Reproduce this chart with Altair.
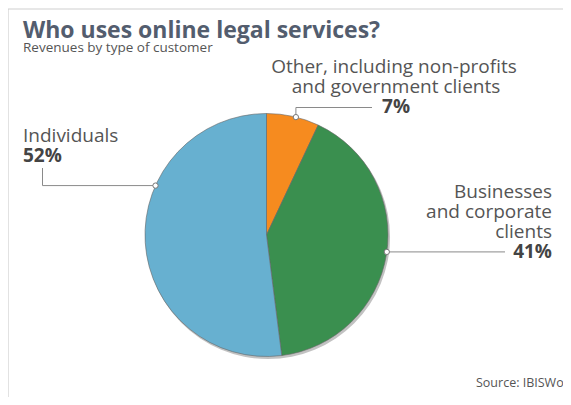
import math
import altair as alt
import pandas as pd

# ---- data ----
categories = ["Other", "Businesses", "Individuals"]
shares = [7, 41, 52]
colors = ["#F68B1F", "#3A8F4F", "#67B0D0"]
label_lines = [
    ["Other, including non-profits", "and government clients"],
    ["Businesses", "and corporate", "clients"],
    ["Individuals"],
]
pct_labels = ["7%", "41%", "52%"]
title_text = "Who uses online legal services?"
subtitle_text = "Revenues by type of customer"
source_text = "Source: IBISWorld"

# ---- layout (page coords -> view coords) ----
W, H = 555, 389
OX, OY = 8, 8
CX, CY, R = 266.5 - OX, 235 - OY, 121.5
anchor_deg = [14, 98, 294]          # where each leader line touches the pie
FONT = "Open Sans"
LBL = 19

pie_df = pd.DataFrame({"category": categories, "share": shares,
                       "order": list(range(len(categories)))})

# dots on the pie edge
dots = []
for cat, a in zip(categories, anchor_deg):
    t = math.radians(a)
    dots.append({"label": cat, "x": CX + R * math.sin(t), "y": CY - R * math.cos(t)})
dot_df = pd.DataFrame(dots)

# leader lines (elbows in page coords)
elbows = {
    "Other": [("dot", None), (None, 107.5), (372, None)],
    "Businesses": [("dot", None), (505, None)],
    "Individuals": [("dot", None), (42.5, None), (None, 168)],
}
line_rows = []
for d in dots:
    px, py = d["x"], d["y"]
    seq = 0
    for ex, ey in elbows[d["label"]]:
        if ex != "dot":
            if ex is not None:
                px = ex - OX
            if ey is not None:
                py = ey - OY
        line_rows.append({"label": d["label"], "seq": seq, "x": px, "y": py})
        seq += 1
line_df = pd.DataFrame(line_rows)

# text rows: (text, x, y, align, weight, size, color)
texts = []
texts.append((title_text, 23, 38, "left", "bold", 23, "#535D6E"))
texts.append((subtitle_text, 23, 52, "left", "normal", 13.5, "#555555"))
texts.append((source_text, 476, 387, "left", "normal", 12.5, "#555555"))
# Other
texts.append((label_lines[0][0], 394, 73, "center", "normal", LBL, "#555555"))
texts.append((label_lines[0][1], 396, 93, "center", "normal", LBL, "#555555"))
texts.append((pct_labels[0], 396, 113, "center", "bold", LBL, "#444444"))
# Businesses
for i, ln in enumerate(label_lines[1]):
    texts.append((ln, 552, 198 + 20 * i, "right", "normal", LBL, "#555555"))
texts.append((pct_labels[1], 552, 258, "right", "bold", LBL, "#444444"))
# Individuals
texts.append((label_lines[2][0], 23, 142, "left", "normal", LBL, "#555555"))
texts.append((pct_labels[2], 23, 162, "left", "bold", LBL, "#444444"))

text_df = pd.DataFrame([
    {"text": t, "x": x - OX, "y": y - OY, "align": al, "weight": wt, "size": sz, "color": c}
    for t, x, y, al, wt, sz, c in texts
])

# ---- layers ----
border_top = alt.Chart(pd.DataFrame({"a": [0]})).mark_rule(
    color="#cfcfcf", strokeWidth=1.2).encode(
    x=alt.value(-1), x2=alt.value(W), y=alt.value(1))
border_left = alt.Chart(pd.DataFrame({"a": [0]})).mark_rule(
    color="#cfcfcf", strokeWidth=1.2).encode(
    x=alt.value(0), y=alt.value(1), y2=alt.value(H))

shadow = alt.Chart(pd.DataFrame({"a": [0]})).mark_arc(
    radius=R + 0.5, theta=0, theta2=2 * math.pi, color="#777777", opacity=0.45).encode(
    x=alt.value(CX + 1.5), y=alt.value(CY + 2))

pie = alt.Chart(pie_df).mark_arc(radius=R, stroke="#666666", strokeWidth=0.6).encode(
    theta=alt.Theta("share:Q", stack=True),
    color=alt.Color("category:N", scale=alt.Scale(domain=categories, range=colors), legend=None),
    order=alt.Order("order:Q"),
    x=alt.value(CX), y=alt.value(CY),
)

leaders = alt.Chart(line_df).mark_line(color="#8a8a8a", strokeWidth=1).encode(
    x=alt.X("x:Q", scale=None, axis=None),
    y=alt.Y("y:Q", scale=None, axis=None),
    detail="label:N",
    order="seq:Q",
)

dot_layer = alt.Chart(dot_df).mark_point(
    filled=True, fill="white", stroke="#777777", strokeWidth=1, size=28, opacity=1).encode(
    x=alt.X("x:Q", scale=None, axis=None),
    y=alt.Y("y:Q", scale=None, axis=None),
)

text_layers = []
for (al, wt, sz), g in text_df.groupby(["align", "weight", "size"]):
    text_layers.append(
        alt.Chart(g).mark_text(align=al, baseline="alphabetic", font=FONT,
                               fontWeight=wt, fontSize=float(sz)).encode(
            x=alt.X("x:Q", scale=None, axis=None),
            y=alt.Y("y:Q", scale=None, axis=None),
            text="text:N",
            color=alt.Color("color:N", scale=None),
        )
    )

chart = alt.layer(border_top, border_left, shadow, pie, leaders, dot_layer, *text_layers).properties(
    width=W, height=H, padding=0,
    autosize=alt.AutoSizeParams(type="none"),
    background="white",
).configure_view(stroke=None)

chart.save("out.html", embed_options={"renderer": "svg", "actions": False})
